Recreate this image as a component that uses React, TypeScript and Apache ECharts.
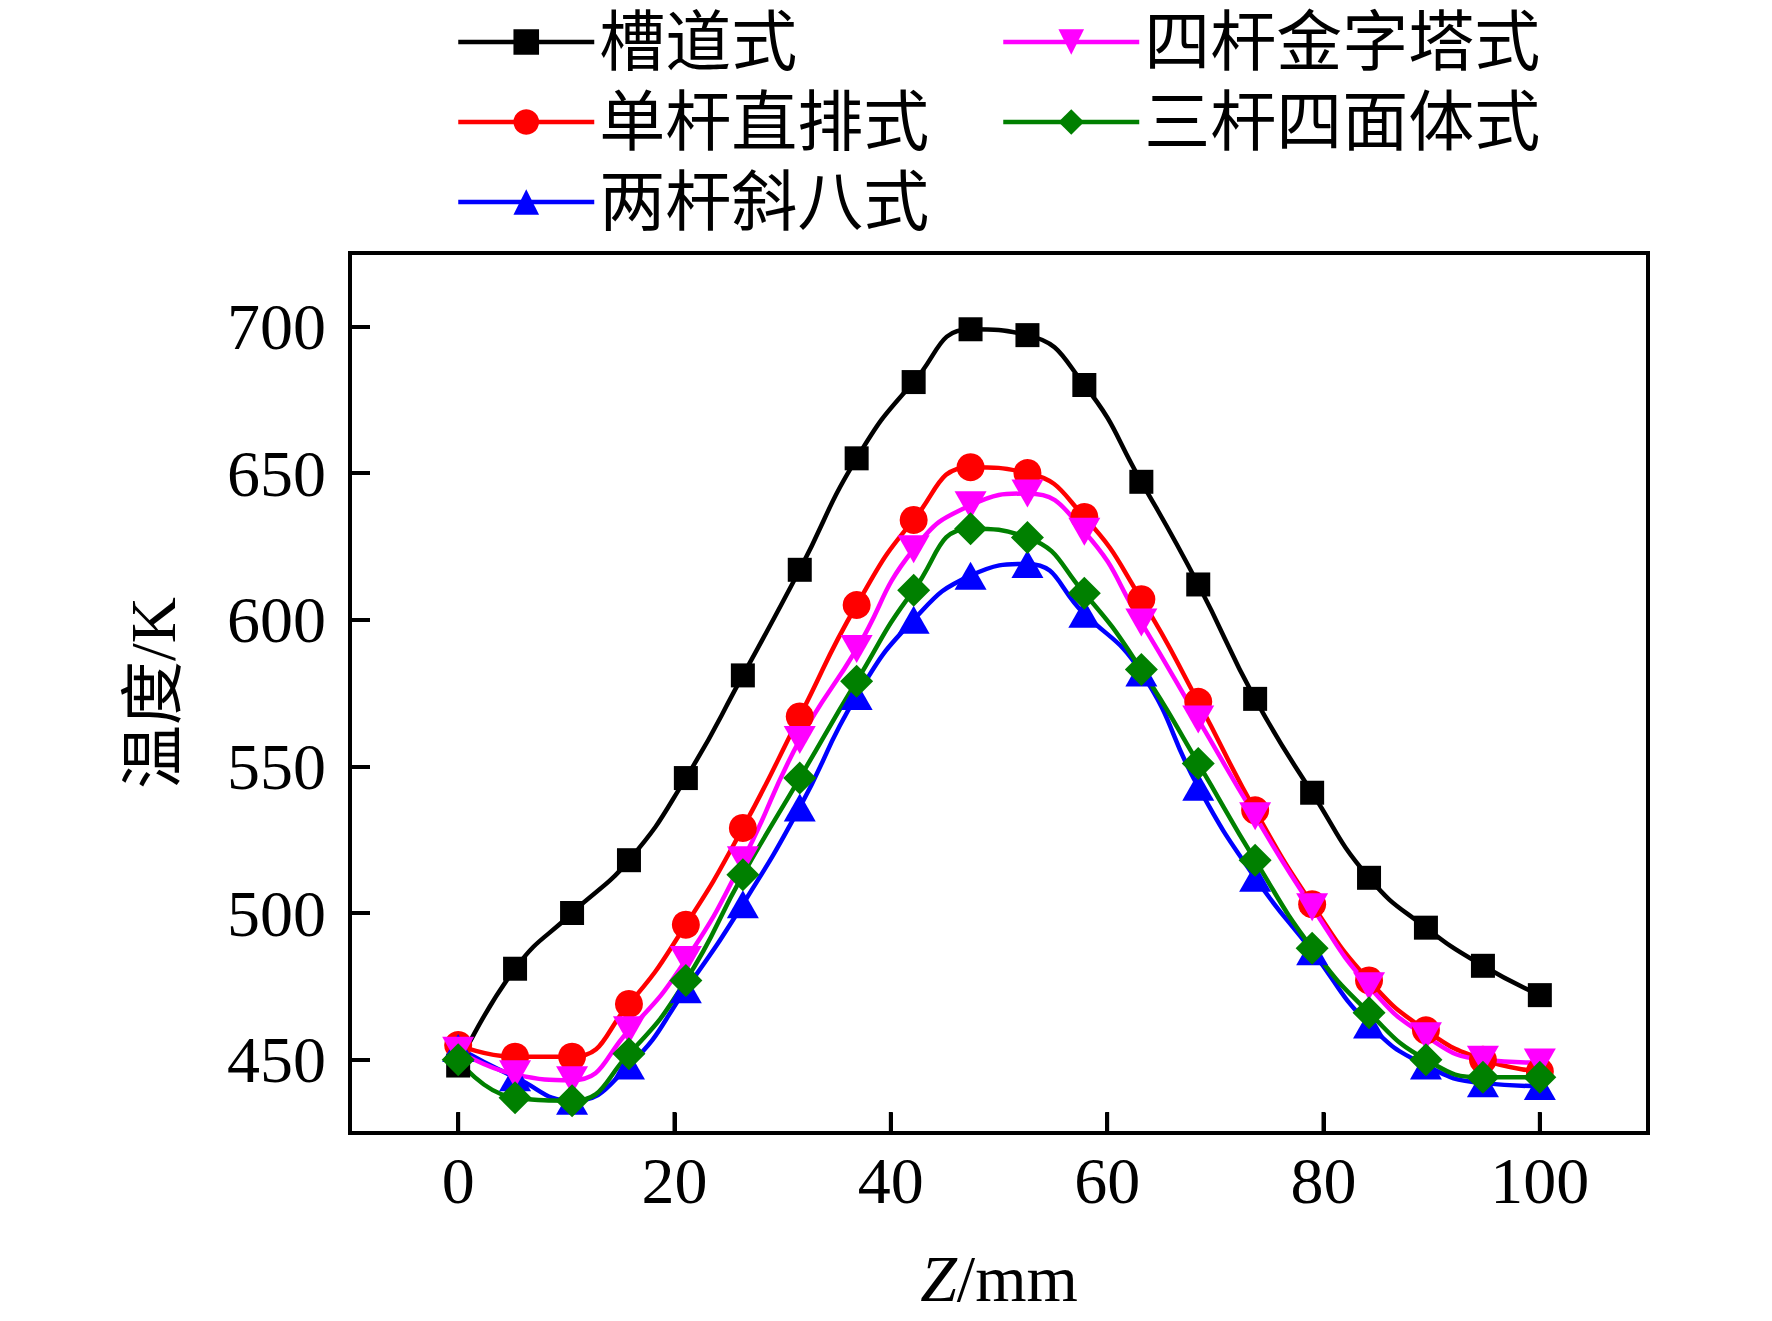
import React, { useEffect, useRef } from "react";
import * as echarts from "echarts";

const zPositions = [0, 5.26, 10.53, 15.79, 21.05, 26.32, 31.58, 36.84, 42.11, 47.37, 52.63, 57.89, 63.16, 68.42, 73.68, 78.95, 84.21, 89.47, 94.74, 100];

const seriesNames = ["槽道式", "单杆直排式", "两杆斜八式", "四杆金字塔式", "三杆四面体式"];

const caodao = [448, 481, 500, 518, 546, 581, 617, 655, 681, 699, 697, 680, 647, 612, 573, 541, 512, 495, 482, 472];
const dangan = [455, 451, 451, 469, 496, 529, 567, 605, 634, 652, 650, 635, 607, 572, 535, 503, 477, 460, 450, 446];
const lianggan = [454, 444, 436, 448, 474, 503, 536, 574, 600, 615, 619, 602, 582, 543, 512, 487, 462, 448, 442, 441];
const sigan = [453, 445, 443, 460, 484, 518, 559, 590, 624, 639, 643, 630, 599, 566, 533, 502, 475, 458, 450, 449];
const sangan = [450, 437, 436, 452, 477, 513, 546, 579, 610, 631, 628, 609, 583, 551, 518, 488, 466, 450, 444, 444];

const xTicks = [0, 20, 40, 60, 80, 100];
const yTicks = [450, 500, 550, 600, 650, 700];
const xRange = [-10, 110];
const yRange = [425, 725];

const seriesValues = [caodao, dangan, lianggan, sigan, sangan];
const colors = ["#000000", "#ff0000", "#0000ff", "#ff00ff", "#008000"];
const symbols = ["rect", "circle", "triangle", "triangle", "diamond"];
const symbolSizes: any[] = [24, 28, [32, 28], [32, 28], 33];
const symbolRotates = [0, 0, 0, 180, 0];

const serif = "'Liberation Serif', 'Times New Roman', serif";
const cjk = "'Liberation Serif', 'Noto Sans CJK SC', serif";

export default function App() {
  const ref = useRef<HTMLDivElement>(null);
  useEffect(() => {
    if (!ref.current) return;
    document.body.style.margin = "0";
    const chart = echarts.init(ref.current, undefined, { renderer: "svg" });
    const series: any[] = seriesNames.map((name, i) => ({
      name,
      type: "line",
      smooth: 0.5,
      data: zPositions.map((z, k) => [z, seriesValues[i][k]]),
      symbol: symbols[i],
      symbolSize: symbolSizes[i],
      symbolRotate: symbolRotates[i],
      showAllSymbol: true,
      clip: false,
      itemStyle: { color: colors[i] },
      lineStyle: { color: colors[i], width: 4.5 },
    }));
    // bottom-axis tick marks (inward), placed through the x scale
    series.push({
      name: "xTickMarks",
      type: "custom",
      silent: true,
      clip: false,
      z: 100,
      encode: { x: 0, y: 1 },
      data: xTicks.map((v) => [v, yRange[0]]),
      renderItem: (_params: any, api: any) => {
        const p = api.coord([api.value(0), api.value(1)]);
        return {
          type: "rect",
          z2: 100,
          shape: { x: p[0] - 2, y: p[1] - 21, width: 4, height: 21 },
          style: { fill: "#000" },
        };
      },
    });
    const legendCommon = {
      orient: "vertical",
      itemWidth: 136,
      itemHeight: 32,
      itemGap: 14,
      lineStyle: { width: 4.5 },
      textStyle: { fontFamily: cjk, fontSize: 66, lineHeight: 66, color: "#000" },
    };
    const tickStyle = { color: "#000", width: 4 };
    chart.setOption({
      animation: false,
      backgroundColor: "#ffffff",
      legend: [
        { ...legendCommon, left: 451, top: 4, data: [seriesNames[0], seriesNames[1], seriesNames[2]] },
        { ...legendCommon, left: 996, top: 4, data: [seriesNames[3], seriesNames[4]] },
      ],
      grid: {
        left: 350,
        right: 124,
        top: 253,
        bottom: 188,
        show: true,
        borderColor: "#000",
        borderWidth: 4,
      },
      xAxis: {
        type: "value",
        min: xRange[0],
        max: xRange[1],
        name: "{i|Z}/mm",
        nameLocation: "middle",
        nameGap: 112,
        nameTextStyle: {
          fontFamily: serif,
          fontSize: 66,
          color: "#000",
          rich: { i: { fontFamily: serif, fontSize: 66, fontStyle: "italic", color: "#000" } },
        },
        axisLine: { show: true, onZero: false, lineStyle: tickStyle },
        splitLine: { show: false },
        axisTick: { show: true, inside: true, length: 20, lineStyle: tickStyle, customValues: xTicks },
        axisLabel: { fontFamily: serif, fontSize: 66, color: "#000", margin: 14, customValues: xTicks },
      },
      yAxis: {
        type: "value",
        min: yRange[0],
        max: yRange[1],
        name: "温度/K",
        nameLocation: "middle",
        nameGap: 165,
        nameRotate: 90,
        nameTextStyle: { fontFamily: cjk, fontSize: 64, color: "#000" },
        axisLine: { show: true, onZero: false, lineStyle: tickStyle },
        splitLine: { show: false },
        axisTick: { show: true, inside: true, length: 20, lineStyle: tickStyle, customValues: yTicks },
        axisLabel: { fontFamily: serif, fontSize: 66, color: "#000", margin: 24, customValues: yTicks },
      },
      series,
    });
    return () => chart.dispose();
  }, []);
  return <div ref={ref} style={{ width: 1772, height: 1321 }} />;
}
